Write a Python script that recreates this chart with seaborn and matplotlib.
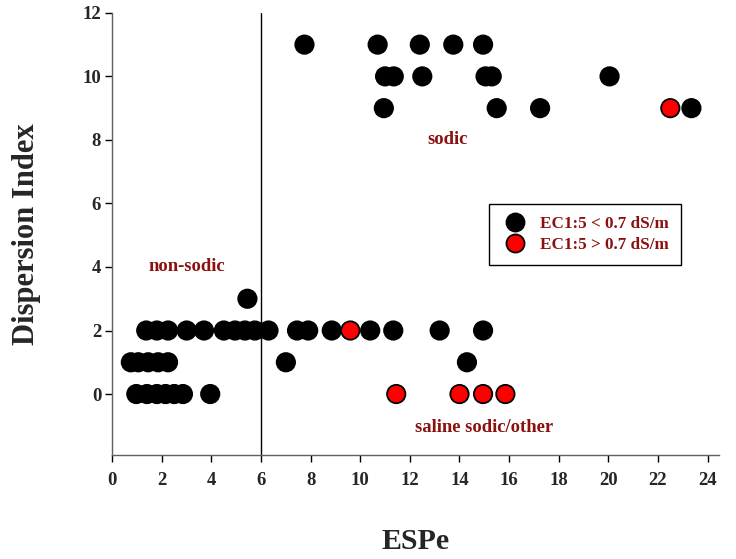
import matplotlib
matplotlib.use("Agg")
import matplotlib.pyplot as plt
import seaborn as sns
import pandas as pd
from matplotlib.lines import Line2D

# Data: ESPe vs Dispersion Index
low_ec_esp = [0.97, 1.4, 1.8, 2.15, 2.5, 2.85, 3.95,
              0.75, 1.05, 1.45, 1.85, 2.25, 7.0, 14.3,
              1.37, 1.8, 2.25, 3.0, 3.7, 4.5, 4.95, 5.35, 5.75, 6.3,
              7.45, 7.9, 8.85, 10.4, 11.33, 13.2, 14.95,
              5.45,
              10.95, 15.5, 17.25, 23.35,
              11.0, 11.35, 12.5, 15.05, 15.3, 20.05,
              7.75, 10.7, 12.4, 13.75, 14.95]
low_ec_di = [0, 0, 0, 0, 0, 0, 0,
             1, 1, 1, 1, 1, 1, 1,
             2, 2, 2, 2, 2, 2, 2, 2, 2, 2,
             2, 2, 2, 2, 2, 2, 2,
             3,
             9, 9, 9, 9,
             10, 10, 10, 10, 10, 10,
             11, 11, 11, 11, 11]
high_ec_esp = [9.6, 11.45, 14.0, 14.95, 15.85, 22.5]
high_ec_di = [2, 0, 0, 0, 0, 9]

label_low = "EC1:5 < 0.7 dS/m"
label_high = "EC1:5 > 0.7 dS/m"
region_labels = ["sodic", "non-sodic", "saline sodic/other"]
x_ticks = list(range(0, 25, 2))
y_ticks = list(range(0, 13, 2))

df = pd.DataFrame({
    "ESPe": low_ec_esp + high_ec_esp,
    "DI": low_ec_di + high_ec_di,
    "EC": [label_low] * len(low_ec_esp) + [label_high] * len(high_ec_esp),
})

sns.set_style("white")
plt.rcParams["font.family"] = ["Liberation Serif", "DejaVu Serif"]
plt.rcParams["font.weight"] = "bold"

fig = plt.figure(figsize=(7.36, 5.59), dpi=100)
ax = fig.add_axes([0.1525, 0.186, 0.824, 0.791])

dark_red = "#8b1010"

ax.axvline(6, color="black", lw=1.0, zorder=1)

sns.scatterplot(data=df, x="ESPe", y="DI", hue="EC",
                palette={label_low: "black", label_high: "red"},
                s=175, edgecolor="black", linewidth=1.3, ax=ax, legend=False,
                zorder=3)

ax.set_xlim(0, 24.45)
ax.set_ylim(-1.92, 12)
ax.set_xticks(x_ticks)
ax.set_yticks(y_ticks)
ax.tick_params(direction="out", length=5, width=1, color="black",
               labelsize=13.5, bottom=True, left=True)
ax.tick_params(axis="x", pad=7)
ax.tick_params(axis="y", pad=3)
for lab in ax.get_xticklabels() + ax.get_yticklabels():
    lab.set_fontweight("bold")

for side in ["top", "right"]:
    ax.spines[side].set_visible(False)
for side in ["left", "bottom"]:
    ax.spines[side].set_color("#606060")
    ax.spines[side].set_linewidth(1.0)

ax.set_xlabel("ESPe", fontsize=21.5, fontweight="bold", labelpad=28)
ax.set_ylabel("Dispersion Index", fontsize=22, fontweight="bold", labelpad=30)

ax.text(13.5, 8.0, region_labels[0], color=dark_red, fontsize=13.4,
        fontweight="bold", ha="center", va="center")
ax.text(3.0, 4.0, region_labels[1], color=dark_red, fontsize=13.4,
        fontweight="bold", ha="center", va="center")
ax.text(15.0, -1.05, region_labels[2], color=dark_red, fontsize=13.4,
        fontweight="bold", ha="center", va="center")

handles = [
    Line2D([], [], ls="none", marker="o", markersize=13, markerfacecolor="black",
           markeredgecolor="black", markeredgewidth=1.3),
    Line2D([], [], ls="none", marker="o", markersize=13, markerfacecolor="red",
           markeredgecolor="black", markeredgewidth=1.3),
]
leg = ax.legend(handles, [label_low, label_high], loc="upper left",
                bbox_to_anchor=(0.607, 0.587), frameon=True, fancybox=False,
                edgecolor="black", framealpha=1, fontsize=12.3,
                handletextpad=0.6, borderpad=0.7, labelspacing=0.3,
                handlelength=1.7)
leg.get_frame().set_linewidth(1.0)
for t in leg.get_texts():
    t.set_color(dark_red)
    t.set_fontweight("bold")

fig.savefig("out.png", dpi=100)
